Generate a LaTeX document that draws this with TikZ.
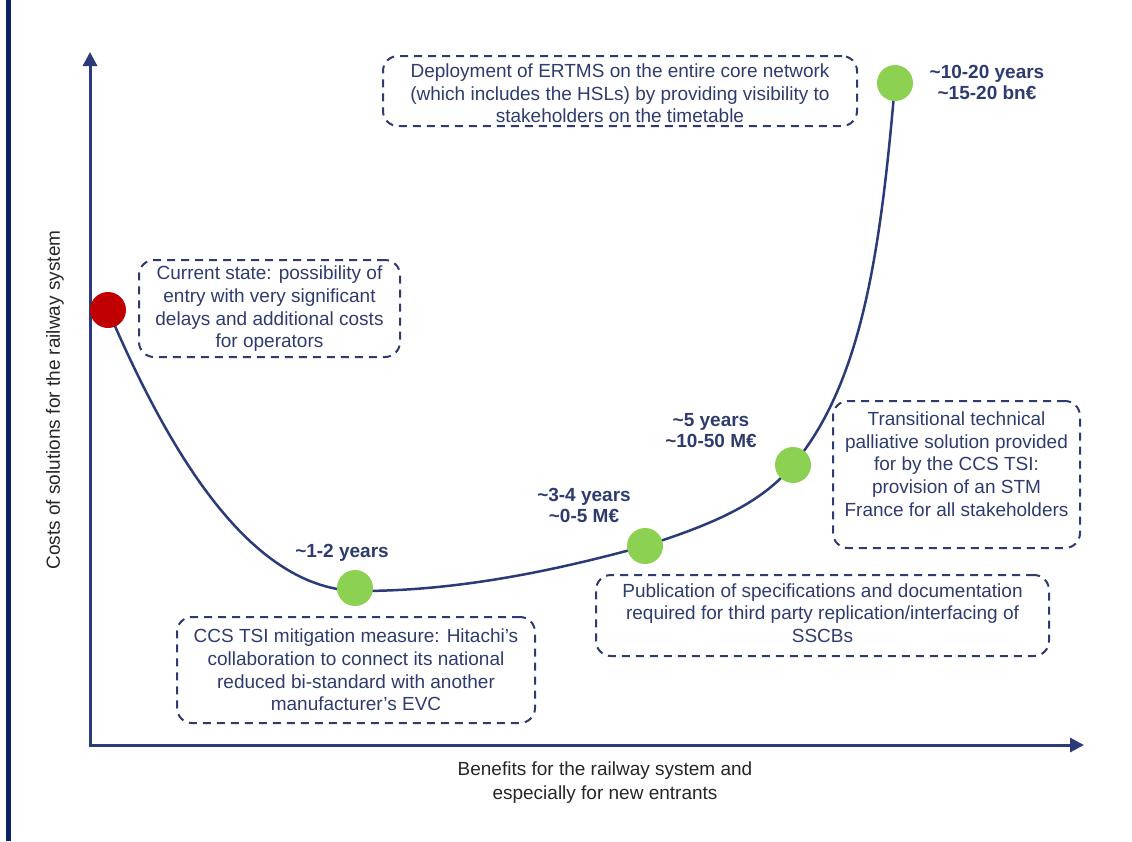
\documentclass[tikz,border=0pt]{standalone}
\usepackage{fontspec}
\setmainfont{Liberation Sans}
\usetikzlibrary{arrows.meta}
\definecolor{navy}{HTML}{2B3A78}
\definecolor{bar}{HTML}{0B1F66}
\definecolor{txtnavy}{HTML}{2E3B6E}
\definecolor{dotgreen}{HTML}{8CD152}
\definecolor{dotred}{HTML}{C00000}
\tikzset{
  axis/.style={line width=3pt, draw=navy, -{Triangle[width=14pt,length=14pt]}},
  curveline/.style={line width=2.5pt, draw=navy},
  dashbox/.style={draw=txtnavy, line width=2pt, dash pattern=on 8pt off 6pt,
    rounded corners=15pt, inner sep=0pt},
  boxtext/.style={text=txtnavy, align=center, font=\fontsize{19}{22.7}\selectfont},
  stage/.style={text=txtnavy, align=center, font=\fontsize{19}{21}\selectfont\bfseries},
  axislabel/.style={text=black!85, align=center, font=\fontsize{19}{24}\selectfont},
  dot/.style={circle, minimum size=36pt, inner sep=0pt},
}
\begin{document}
\begin{tikzpicture}[x=1pt, y=-1pt]
\useasboundingbox (0,0) rectangle (1132,841);
% page edge bar
\fill[bar] (6,0) rectangle (11,841);

% axes
\coordinate (origin) at (90,745);
\coordinate (ytip) at (90,52);
\coordinate (xtip) at (1084,745);
\draw[axis] (90,746.5) -- (ytip);
\draw[axis] (88.5,745) -- (xtip);

% stage points on the cost / benefit curve
\node[dot] (s0) at (108,310) {};
\node[dot] (s1) at (355,588) {};
\node[dot] (s2) at (645,546) {};
\node[dot] (s3) at (793,465) {};
\node[dot] (s4) at (895,83) {};
\draw[curveline] (s0.center) .. controls (168,450) and (250,591) .. (360,591)
  .. controls (470,591) and (575,565) .. (s2.center)
  .. controls (710,525) and (760,505) .. (s3.center)
  .. controls (860,385) and (880,260) .. (s4.center);
% dots drawn over the curve
\fill[dotred] (s0) circle (18);
\fill[dotgreen] (s1) circle (18);
\fill[dotgreen] (s2) circle (18);
\fill[dotgreen] (s3) circle (18);
\fill[dotgreen] (s4) circle (18);

% stage labels
\node[stage] (l1) at (342,553) {\textasciitilde1-2 years};
\node[stage] (l2) at (584,505.5) {\textasciitilde3-4 years\\\textasciitilde0-5 M€};
\node[stage] (l3) at (711,431) {\textasciitilde5 years\\\textasciitilde10-50 M€};
\node[stage] (l4) at (987,82.5) {\textasciitilde10-20 years\\\textasciitilde15-20 bn€};

% dashed description boxes
\node[dashbox, minimum width=474pt, minimum height=70pt] (b4) at (620,91) {};
\node[boxtext] (t4) at (620,93.5) {Deployment of ERTMS on the entire core network\\(which includes the HSLs) by providing visibility to\\stakeholders on the timetable};

\node[dashbox, minimum width=261pt, minimum height=97pt] (b0) at (269.5,308.5) {};
\node[boxtext] (t0) at (269.5,309) {Current state: possibility of\\entry with very significant\\delays and additional costs\\for operators};

\node[dashbox, minimum width=247pt, minimum height=147pt] (b3) at (956.5,474.5) {};
\node[boxtext] (t3) at (956.5,464) {Transitional technical\\palliative solution provided\\for by the CCS TSI:\\provision of an STM\\France for all stakeholders};

\node[dashbox, minimum width=453pt, minimum height=81pt] (b2) at (822.5,615.5) {};
\node[boxtext] (t2) at (822.5,613) {Publication of specifications and documentation\\required for third party replication/interfacing of\\SSCBs};

\node[dashbox, minimum width=358pt, minimum height=106pt] (b1) at (356,670) {};
\node[boxtext] (t1) at (356,670) {CCS TSI mitigation measure: Hitachi's\\collaboration to connect its national\\reduced bi-standard with another\\manufacturer's EVC};

% axis titles
\node[axislabel] (xlab) at (605,783) {Benefits for the railway system and\\especially for new entrants};
\node[axislabel, rotate=90] (ylab) at (55,400) {Costs of solutions for the railway system};
\end{tikzpicture}
\end{document}
